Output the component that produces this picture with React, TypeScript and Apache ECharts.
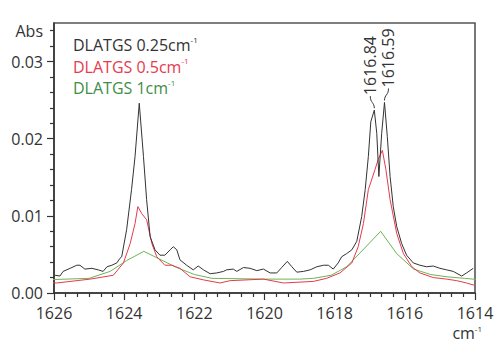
import React, { useEffect, useRef } from "react";
import * as echarts from "echarts";

// wavenumber (cm-1) and absorbance for each resolution
const blackX = [1625.97, 1625.83, 1625.74, 1625.54, 1625.35, 1625.26, 1625.12, 1624.92, 1624.74, 1624.6, 1624.49, 1624.35, 1624.21, 1624.12, 1624.07, 1623.93, 1623.79, 1623.69, 1623.57, 1623.45, 1623.36, 1623.26, 1623.12, 1622.98, 1622.84, 1622.69, 1622.6, 1622.5, 1622.41, 1622.22, 1622.03, 1621.89, 1621.74, 1621.55, 1621.36, 1621.17, 1621.08, 1620.89, 1620.79, 1620.6, 1620.41, 1620.22, 1620.03, 1619.84, 1619.65, 1619.51, 1619.35, 1619.22, 1619.08, 1618.89, 1618.7, 1618.51, 1618.32, 1618.18, 1618.04, 1617.9, 1617.8, 1617.66, 1617.51, 1617.37, 1617.23, 1617.13, 1617.04, 1616.97, 1616.87, 1616.8, 1616.74, 1616.66, 1616.58, 1616.5, 1616.42, 1616.33, 1616.23, 1616.09, 1615.95, 1615.76, 1615.57, 1615.38, 1615.19, 1615.0, 1614.81, 1614.62, 1614.38, 1614.24, 1614.05];
const blackY = [0.0023, 0.0022, 0.0028, 0.0032, 0.0036, 0.0036, 0.0031, 0.0032, 0.003, 0.0028, 0.0034, 0.0036, 0.0039, 0.0045, 0.0047, 0.0082, 0.0134, 0.0177, 0.0246, 0.0177, 0.0121, 0.0073, 0.0056, 0.0049, 0.0049, 0.0056, 0.006, 0.0056, 0.0043, 0.0036, 0.003, 0.0035, 0.003, 0.0025, 0.0026, 0.0028, 0.003, 0.0031, 0.0028, 0.0033, 0.0032, 0.0029, 0.0031, 0.0026, 0.0026, 0.0033, 0.0041, 0.0034, 0.0027, 0.0028, 0.003, 0.0034, 0.0036, 0.0036, 0.0031, 0.0039, 0.0047, 0.0051, 0.0056, 0.0067, 0.0099, 0.0134, 0.0177, 0.0222, 0.0237, 0.0207, 0.0151, 0.0207, 0.0247, 0.0203, 0.0151, 0.0112, 0.0086, 0.0064, 0.0049, 0.0039, 0.0036, 0.0034, 0.0035, 0.0032, 0.003, 0.0028, 0.0022, 0.0026, 0.0032];

const redX = [1626.31, 1625.92, 1624.97, 1624.31, 1624.02, 1623.83, 1623.69, 1623.61, 1623.5, 1623.36, 1623.21, 1623.07, 1622.84, 1622.64, 1622.41, 1622.12, 1621.74, 1621.27, 1620.98, 1620.03, 1619.46, 1618.61, 1618.23, 1617.85, 1617.51, 1617.33, 1617.18, 1617.04, 1616.85, 1616.76, 1616.64, 1616.54, 1616.42, 1616.23, 1616.04, 1615.8, 1615.57, 1615.19, 1614.81, 1614.52, 1614.24, 1614.02];
const redY = [0.0014, 0.0013, 0.0018, 0.0023, 0.0039, 0.0064, 0.009, 0.0112, 0.0103, 0.0095, 0.0064, 0.0047, 0.0036, 0.0036, 0.0032, 0.0021, 0.0017, 0.0013, 0.0016, 0.0018, 0.0013, 0.0015, 0.0019, 0.0026, 0.0039, 0.006, 0.009, 0.0134, 0.016, 0.0173, 0.0185, 0.016, 0.0121, 0.0077, 0.0051, 0.0034, 0.0026, 0.002, 0.0018, 0.0016, 0.0013, 0.001];

const greenX = [1626.3, 1625.0, 1624.4, 1623.93, 1623.44, 1622.95, 1622.5, 1622.0, 1621.5, 1620.0, 1619.0, 1618.6, 1618.1, 1617.66, 1617.17, 1616.69, 1616.23, 1615.75, 1615.27, 1614.8, 1614.3, 1613.8];
const greenY = [0.0017, 0.0019, 0.0028, 0.0042, 0.0054, 0.0043, 0.0033, 0.0024, 0.0019, 0.0018, 0.0018, 0.0019, 0.0023, 0.0034, 0.0057, 0.008, 0.0051, 0.0031, 0.0024, 0.0021, 0.0019, 0.0017];

const yLabelValues = [0, 0.01, 0.02, 0.03, 0.034];
const yMinorValues = [0.002, 0.004, 0.006, 0.008, 0.012, 0.014, 0.016, 0.018, 0.022, 0.024, 0.026, 0.028, 0.032, 0.034];

const legendItems = [
  { res: "0.25", color: "#333333" },
  { res: "0.5", color: "#e63a4f" },
  { res: "1", color: "#3f8d48" },
];
const peakLabels = [
  { text: "1616.84", x: 1616.87, y: 0.0237, side: -1 },
  { text: "1616.59", x: 1616.58, y: 0.0247, side: 1 },
];

const FONT = "'Open Sans', 'Noto Sans', sans-serif";

const zip = (xs: number[], ys: number[]) => xs.map((x, i) => [x, ys[i]]);

export default function App() {
  const ref = useRef<HTMLDivElement>(null);
  useEffect(() => {
    if (!ref.current) return;
    const chart = echarts.init(ref.current, undefined, { renderer: "svg" });
    const option: any = {
      animation: false,
      grid: {
        left: 54,
        right: 25,
        top: 23,
        bottom: 64,
        show: true,
        borderColor: "#555",
        borderWidth: 1.6,
        backgroundColor: "transparent",
      },
      xAxis: {
        type: "value",
        min: 1614,
        max: 1626,
        interval: 2,
        inverse: true,
        axisLine: { show: true, lineStyle: { color: "#333", width: 1.5 } },
        axisTick: { show: true, length: 7, lineStyle: { color: "#333", width: 1.2 } },
        minorTick: { show: true, splitNumber: 6, length: 4, lineStyle: { color: "#333", width: 1.2 } },
        splitLine: { show: false },
        axisLabel: { fontSize: 16, lineHeight: 16, color: "#333", fontFamily: FONT, margin: 12, formatter: (v: number) => String(v) },
      },
      yAxis: [
        {
          type: "value",
          min: 0,
          max: 0.035,
          axisLine: { show: true, lineStyle: { color: "#333", width: 1.5 } },
          axisTick: { show: true, length: 7, customValues: [0, 0.01, 0.02, 0.03], lineStyle: { color: "#333", width: 1.2 } },
          splitLine: { show: false },
          axisLabel: {
            fontSize: 16,
            color: "#333",
            fontFamily: FONT,
            margin: 11,
            customValues: yLabelValues,
            formatter: (v: number) => (Math.abs(v - 0.034) < 1e-9 ? "Abs" : v.toFixed(2)),
          },
        },
        {
          type: "value",
          min: 0,
          max: 0.035,
          position: "left",
          axisLine: { show: false },
          axisTick: { show: true, length: 4, customValues: yMinorValues, lineStyle: { color: "#333", width: 1.2 } },
          axisLabel: { show: false },
          splitLine: { show: false },
        },
      ],
      series: [
        {
          name: "green",
          type: "line",
          data: zip(greenX, greenY),
          showSymbol: false,
          clip: false,
          lineStyle: { color: "#6cb553", width: 1 },
          z: 2,
        },
        {
          name: "red",
          type: "line",
          data: zip(redX, redY),
          showSymbol: false,
          clip: false,
          lineStyle: { color: "#e63a4f", width: 1 },
          z: 3,
        },
        {
          name: "black",
          type: "line",
          data: zip(blackX, blackY),
          showSymbol: false,
          lineStyle: { color: "#333", width: 1 },
          z: 4,
        },
      ],
    };
    chart.setOption(option);

    const graphics: any[] = [];
    legendItems.forEach((it, i) => {
      graphics.push({
        type: "text",
        left: 73,
        top: 35 + i * 21.5,
        style: {
          text: `{a|DLATGS ${it.res}cm}{s|-1}`,
          fill: it.color,
          rich: {
            a: { fontSize: 16, fontFamily: FONT, fill: it.color, lineHeight: 20 },
            s: { fontSize: 8, fontFamily: FONT, fill: it.color, verticalAlign: "top", lineHeight: 20 },
          },
        },
      });
    });
    peakLabels.forEach((p) => {
      const px = chart.convertToPixel({ gridIndex: 0 }, [p.x, p.y]) as number[];
      const ax = px[0] + p.side * 4;
      const ay = px[1] - 15;
      graphics.push({
        type: "bezierCurve",
        shape: {
          x1: px[0], y1: px[1] - 2,
          cpx1: px[0], cpy1: px[1] - 8,
          cpx2: ax, cpy2: ay + 8,
          x2: ax, y2: ay + 1,
        },
        style: { stroke: "#333", lineWidth: 1, fill: "none" },
      });
      graphics.push({
        type: "text",
        x: ax,
        y: ay,
        rotation: Math.PI / 2,
        style: {
          text: p.text,
          fontSize: 16,
          fontFamily: FONT,
          fill: "#333",
          align: "left",
          verticalAlign: "middle",
        },
      });
    });
    graphics.push({
      type: "text",
      right: 18,
      top: 324,
      style: {
        text: "{a|cm}{s|-1}",
        rich: {
          a: { fontSize: 16, fontFamily: FONT, fill: "#333", lineHeight: 18 },
          s: { fontSize: 8, fontFamily: FONT, fill: "#333", verticalAlign: "top", lineHeight: 18 },
        },
      },
    });
    chart.setOption({ graphic: graphics });
    return () => chart.dispose();
  }, []);
  return (
    <div
      ref={ref}
      style={{ position: "fixed", left: 0, top: 0, width: 500, height: 357, background: "#fff" }}
    />
  );
}
